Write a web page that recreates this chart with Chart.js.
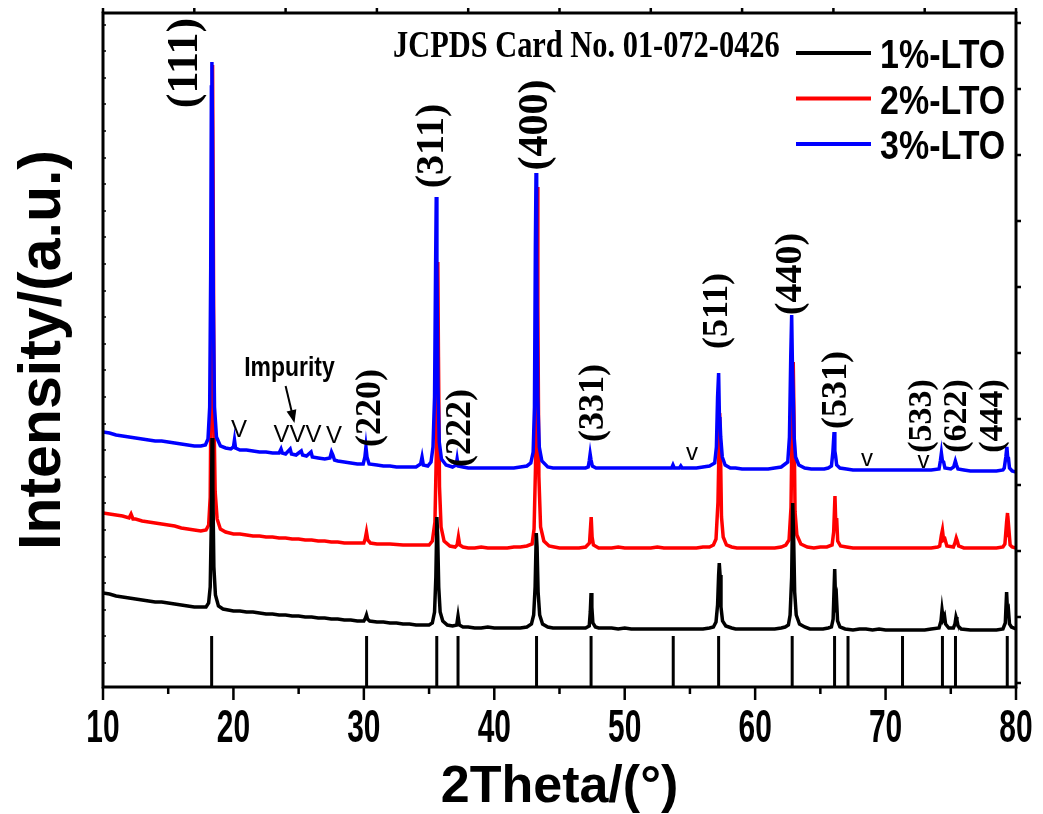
<!DOCTYPE html>
<html>
<head>
<meta charset="utf-8">
<script src="https://cdn.jsdelivr.net/npm/chart.js@4.4.1/dist/chart.umd.min.js"></script>
<style>
  html, body { margin: 0; padding: 0; background: #fff; }
  canvas { display: block; }
</style>
</head>
<body>
<canvas id="xrd" width="1043" height="814"></canvas>
<script>
// ===== DATA =====
const seriesNames = ['1%-LTO', '2%-LTO', '3%-LTO'];
const seriesColors = ['#000000', '#ff0000', '#0000ff'];

// 2theta (deg), intensity (a.u.) -- patterns already offset vertically
const lto1 = [
  [10,94],[10.5,93],[11,91],[11.5,90],[12,89],[12.5,88],[13,87],[13.5,86],[14,85],[14.5,85],[15,84],[15.5,83],[16,82],[16.5,81],[17,80],[17.5,80],[17.9,80],
  [18.1,84],[18.22,100],[18.3,160],[18.36,249],[18.42,200],[18.5,120],[18.62,92],[18.85,81],[19.2,78],
  [19.6,77],[20,76],[20.5,76],[21,75],[21.5,75],[22,74],[22.5,73],[23,73],[23.5,72],[24,72],[24.5,71],[25,71],[25.5,70],[26,70],[26.5,69],[27,69],[27.5,68],[28,68],[28.5,67],[29,67],[29.5,66],[30,66],
  [30.12,69],[30.2,72],[30.28,68],[30.45,66],[31,65],[31.5,65],[32,64],[32.5,64],[33,63],[33.5,63],[34,62],[34.5,62],[35,62],[35.25,64],
  [35.42,75],[35.52,110],[35.6,170],[35.66,150],[35.74,100],[35.85,75],[36.05,66],[36.4,62],[36.8,61],
  [37.12,62],[37.22,71],[37.32,62],[37.6,60],[38,60],[38.5,59],[39,59],[39.5,60],[40,59],[40.5,59],[41,59],[41.5,59],[42,59],[42.5,60],[42.85,63],
  [43.02,72],[43.13,100],[43.22,154],[43.28,140],[43.36,95],[43.48,72],[43.7,63],[44.1,60],[44.5,59],[45,59],[45.5,59],[46,59],[46.5,59],[47,59],[47.28,61],
  [47.36,75],[47.42,94],[47.48,80],[47.56,64],[47.75,60],[48,59],[48.5,59],[49,59],[49.5,58],[50,59],[50.5,58],[51,58],[51.5,58],[52,58],[52.5,58],[53,58],[53.5,58],[54,58],[54.5,58],[55,58],[55.5,58],[56,58],[56.5,59],[56.8,60],
  [57,65],[57.12,82],[57.2,112],[57.25,124],[57.31,112],[57.38,80],[57.5,66],[57.75,61],[58.2,59],[58.5,58],[59,58],[59.5,58],[60,58],[60.5,58],[61,58],[61.5,58],[62,59],[62.3,60],
  [62.55,62],[62.68,72],[62.8,110],[62.88,184],[62.95,150],[63.03,95],[63.15,72],[63.4,63],[63.8,60],[64.2,58],[64.7,58],[65.2,58],[65.6,59],
  [65.85,60],[65.98,68],[66.1,118],[66.17,84],[66.24,88],[66.32,66],[66.5,60],[66.9,58],[67.5,57],[68,58],[68.5,58],[69,57],[69.5,58],[70,57],[70.5,57],[71,57],[71.5,57],[72,57],[72.5,57],[73,57],[73.5,58],[74.1,59],
  [74.25,66],[74.33,77],[74.42,68],[74.52,71],[74.6,63],[74.85,59],[75.2,59],[75.32,63],[75.4,70],[75.47,67],[75.56,61],[75.8,58],[76.5,57],[77,57],[77.5,57],[78,57],[78.5,57],[79,58],
  [79.18,64],[79.28,95],[79.35,75],[79.42,77],[79.5,63],[79.65,60],[80,58]
];
const lto2 = [
  [10,174],[10.5,173],[11,172],[11.5,171],[12,169],[12.15,173],[12.3,168],[12.5,168],[13,166],[13.5,165],[14,164],[14.5,163],[15,162],[15.5,161],[16,159],[16.5,158],[17,157],[17.5,156],[17.9,157],
  [18.1,162],[18.22,190],[18.3,330],[18.36,520],[18.4,622],[18.45,480],[18.52,260],[18.6,195],[18.75,168],[19,158],[19.4,155],
  [20,153],[20.5,153],[21,152],[21.5,151],[22,151],[22.5,150],[23,150],[23.5,149],[24,149],[24.5,148],[25,148],[25.5,147],[26,147],[26.5,146],[27,146],[27.5,145],[28,145],[28.5,144],[29,144],[29.5,144],[30,144],
  [30.1,148],[30.2,155],[30.3,147],[30.5,144],[31,143],[32,143],[33,142],[34,142],[34.5,142],[35,142],[35.25,146],
  [35.45,165],[35.55,230],[35.62,340],[35.67,425],[35.72,330],[35.8,200],[35.92,160],[36.15,146],[36.6,141],[37,140],
  [37.15,142],[37.25,150],[37.35,142],[37.6,140],[38,139],[38.5,139],[39,140],[39.5,139],[40,139],[40.5,139],[41,139],[41.5,140],[42,140],[42.5,141],[42.9,143],
  [43.05,158],[43.16,220],[43.24,380],[43.29,500],[43.34,380],[43.42,210],[43.55,160],[43.8,146],[44.2,141],[44.6,140],[45,139],[45.5,139],[46,139],[46.5,139],[47,140],
  [47.3,144],[47.38,160],[47.43,170],[47.5,150],[47.6,142],[48,139],[48.5,139],[49,139],[49.5,140],[50,139],[50.5,139],[51,139],[51.5,139],[52,139],[52.5,140],[53,139],[53.5,139],[54,139],[54.5,139],[55,139],[55.5,139],[56,140],[56.5,140],[56.8,142],
  [57,148],[57.15,185],[57.23,240],[57.28,274],[57.34,240],[57.42,170],[57.55,150],[57.8,142],[58.2,140],[58.6,139],[59,139],[59.5,139],[60,139],[60.5,139],[61,139],[61.5,139],[62,140],[62.35,142],
  [62.6,147],[62.75,180],[62.85,280],[62.92,325],[62.98,270],[63.06,175],[63.2,152],[63.5,143],[64,140],[64.5,139],[65,140],[65.5,140],
  [65.9,142],[66.02,155],[66.12,191],[66.19,160],[66.25,169],[66.33,146],[66.55,141],[67,140],[67.5,139],[68,139],[68.5,139],[69,139],[69.5,139],[70,139],[70.5,139],[71,139],[71.5,139],[72,139],[72.5,139],[73,139],[73.5,139],[74,140],
  [74.15,141],[74.28,152],[74.36,157],[74.45,147],[74.55,148],[74.7,141],[75.2,140],[75.32,144],[75.42,149],[75.5,146],[75.6,141],[76,139],[76.5,139],[77,139],[77.5,139],[78,139],[78.5,139],[79,140],
  [79.15,143],[79.28,165],[79.35,174],[79.42,150],[79.47,155],[79.55,142],[79.7,140],[80,139]
];
const lto3 = [
  [10,255],[10.5,254],[11,252],[11.5,251],[12,250],[12.5,249],[13,248],[13.5,247],[14,246],[14.5,246],[15,245],[15.5,244],[16,243],[16.5,242],[17,241],[17.5,241],[17.85,242],
  [18.05,248],[18.18,280],[18.26,420],[18.31,600],[18.35,625],[18.39,560],[18.46,380],[18.55,280],[18.7,250],[19,241],[19.4,239],
  [19.8,238],[20,240],[20.08,247],[20.16,239],[20.5,237],[21,237],[21.5,236],[22,235],[22.5,235],[23,234],[23.5,234],
  [23.65,238],[23.75,234],[24,233],[24.35,238],[24.45,233],[24.8,232],[25.2,236],[25.3,232],[25.6,231],[25.95,235],[26.05,230],[26.5,229],[27,228],[27.4,229],[27.52,235],[27.62,232],[27.75,227],[28,226],[28.5,225],[29,224],[29.5,223],[29.95,223],
  [30.08,230],[30.16,240],[30.24,230],[30.4,223],[31,222],[31.5,221],[32,221],[32.5,220],[33,220],[33.5,220],[34,220],[34.35,223],[34.46,230],[34.56,222],[34.9,221],[35.15,225],
  [35.3,240],[35.42,290],[35.5,420],[35.55,490],[35.6,420],[35.68,300],[35.78,245],[35.95,228],[36.3,222],[36.8,220],
  [37.08,222],[37.15,228],[37.23,221],[37.6,220],[38,219],[38.5,219],[39,219],[39.5,219],[40,219],[40.5,219],[41,219],[41.5,219],[42,220],[42.5,221],[42.8,224],
  [42.98,235],[43.08,280],[43.15,440],[43.2,514],[43.25,430],[43.33,290],[43.45,240],[43.65,226],[44.1,220],[44.5,219],[45,219],[45.5,219],[46,219],[46.5,219],[47,219],
  [47.2,220],[47.28,226],[47.35,233],[47.42,227],[47.52,221],[47.8,219],[48.5,219],[49,219],[49.5,219],[50,219],[50.5,219],[51,219],[51.5,219],[52,219],[52.5,219],[53,219],[53.6,219],[53.7,222],[53.8,219],[54.2,219],[54.3,221],[54.4,219],[55,219],[55.5,219],[56,220],[56.5,221],
  [56.9,224],[57.03,240],[57.12,290],[57.2,314],[57.26,270],[57.3,269],[57.36,250],[57.48,230],[57.7,222],[58.1,219],[58.5,219],[59,218],[59.5,218],[60,218],[60.5,218],[61,218],[61.5,219],[62,220],
  [62.5,225],[62.63,250],[62.73,330],[62.8,372],[62.86,320],[62.92,292],[62.99,250],[63.1,230],[63.35,222],[63.8,219],[64.3,218],[64.8,218],[65.3,218],[65.6,219],
  [65.85,221],[65.96,235],[66.05,255],[66.11,236],[66.17,231],[66.25,222],[66.5,219],[67,218],[67.5,217],[68,217],[68.5,217],[69,217],[69.5,217],[70,217],[70.5,217],[71,217],[71.5,217],[72,217],[72.5,217],[73,217],[73.5,217],
  [74.1,218],[74.2,226],[74.28,234],[74.36,226],[74.45,225],[74.55,219],[75,218],[75.22,220],[75.35,226],[75.44,222],[75.55,218],[76,217],[76.5,216],[77,216],[77.5,216],[78,216],[78.5,216],[79,217],
  [79.1,219],[79.22,230],[79.3,240],[79.36,230],[79.42,229],[79.5,219],[79.7,216],[80,215]
];

// JCPDS 01-072-0426 reference lines
const cardPositions = [18.33, 30.21, 35.59, 37.22, 43.24, 47.42, 53.72, 57.20, 62.84, 66.09, 67.12, 71.30, 74.36, 75.36, 79.33];
const cardHeight = 51;

// axis ticks
const xMajor = [10, 20, 30, 40, 50, 60, 70, 80];
const xMinor = [15, 25, 35, 45, 55, 65, 75];
const xTop = [10, 17, 24, 31, 38, 45, 52, 59, 66, 73, 80];
const yLeft = [24, 51, 77, 104, 130, 157, 184, 210, 237, 263, 290, 317, 343, 370, 396, 423, 450, 476, 503, 529, 556, 583, 609, 636, 662];
const yRight = [4, 70, 136, 202, 268, 334, 400, 466, 532, 598, 664];

// hkl labels
const hklText = ['(111)', '(311)', '(400)', '(220)', '(222)', '(331)', '(511)', '(440)', '(531)', '(533)', '(622)', '(444)'];
const hklAt   = [16.3, 35.3, 43.19, 30.55, 37.42, 47.64, 57.11, 62.75, 66.28, 72.8, 75.5, 78.24];
const hklY    = [624, 541, 562, 279, 259, 284, 376, 413, 297, 271, 271, 271];
const hklSize = [44, 40, 42, 36, 36, 36, 36, 38, 36, 34, 34, 34];

// impurity marks
const markText = ['V', 'VVV', 'V', 'v', 'v', 'v'];
const markAt   = [20.43, 24.91, 27.71, 55.16, 68.58, 72.91];
const markY    = [257, 252, 251, 234, 228, 226];

const toXY = arr => arr.map(p => ({ x: p[0], y: p[1] }));

const sticks = [];
cardPositions.forEach(p => {
  sticks.push({ x: p, y: 0 }, { x: p, y: cardHeight }, { x: p, y: null });
});

// ===== TEXT HELPER =====
function squeezeText(ctx, text, x, y, font, sx, align, rot) {
  ctx.save();
  ctx.translate(x, y);
  if (rot) ctx.rotate(rot);
  ctx.scale(sx, 1);
  ctx.font = font;
  ctx.textAlign = align || 'left';
  ctx.fillText(text, 0, 0);
  ctx.restore();
}

const SANS = '"Liberation Sans", Arial, sans-serif';
const SERIF = '"Liberation Serif", "Times New Roman", serif';

// ===== FRAME, TICKS, LABELS =====
const decor = {
  id: 'decor',
  afterDraw(chart) {
    const { ctx, chartArea: a, scales: { x, y } } = chart;
    ctx.save();
    ctx.strokeStyle = '#000';
    ctx.fillStyle = '#000';

    // frame
    ctx.lineWidth = 3;
    ctx.strokeRect(a.left, a.top, a.right - a.left, a.bottom - a.top);

    ctx.lineWidth = 2.5;
    ctx.beginPath();
    xMajor.forEach(v => { const px = x.getPixelForValue(v); ctx.moveTo(px, a.bottom); ctx.lineTo(px, a.bottom + 13); });
    xMinor.forEach(v => { const px = x.getPixelForValue(v); ctx.moveTo(px, a.bottom); ctx.lineTo(px, a.bottom + 7); });
    xTop.forEach(v => { const px = x.getPixelForValue(v); ctx.moveTo(px, a.top); ctx.lineTo(px, a.top - 5); });
    yRight.forEach(v => { const py = y.getPixelForValue(v); ctx.moveTo(a.right, py); ctx.lineTo(a.right + 5, py); });
    ctx.stroke();
    ctx.lineWidth = 1.5;
    ctx.beginPath();
    yLeft.forEach(v => { const py = y.getPixelForValue(v); ctx.moveTo(a.left, py); ctx.lineTo(a.left + 3, py); });
    ctx.stroke();

    // tick labels
    ctx.textBaseline = 'alphabetic';
    xMajor.forEach(v => squeezeText(ctx, String(v), x.getPixelForValue(v), a.bottom + 55, 'bold 46px ' + SANS, 0.65, 'center'));

    // axis titles
    squeezeText(ctx, '2Theta/(°)', (a.left + a.right) / 2, 802, 'bold 52px ' + SANS, 1, 'center');
    squeezeText(ctx, 'Intensity/(a.u.)', 60, (a.top + a.bottom) / 2, 'bold 59px ' + SANS, 1, 'center', -Math.PI / 2);

    // hkl labels
    ctx.textBaseline = 'middle';
    hklText.forEach((t, i) => {
      squeezeText(ctx, t, x.getPixelForValue(hklAt[i]), y.getPixelForValue(hklY[i]), 'bold ' + hklSize[i] + 'px ' + SERIF, 1, 'center', -Math.PI / 2);
    });

    // impurity marks
    markText.forEach((t, i) => {
      squeezeText(ctx, t, x.getPixelForValue(markAt[i]), y.getPixelForValue(markY[i]), '24px ' + SANS, 1, 'center');
    });
    ctx.textBaseline = 'alphabetic';
    squeezeText(ctx, 'Impurity', x.getPixelForValue(24.3), y.getPixelForValue(311), 'bold 27px ' + SANS, 0.85, 'center');

    // arrow
    const x0 = x.getPixelForValue(24.0), y0 = y.getPixelForValue(301);
    const x1 = x.getPixelForValue(24.68), y1 = y.getPixelForValue(264);
    const ang = Math.atan2(y1 - y0, x1 - x0);
    ctx.lineWidth = 2;
    ctx.beginPath();
    ctx.moveTo(x0, y0);
    ctx.lineTo(x1 - 8 * Math.cos(ang), y1 - 8 * Math.sin(ang));
    ctx.stroke();
    ctx.beginPath();
    ctx.moveTo(x1, y1);
    ctx.lineTo(x1 - 13 * Math.cos(ang) + 5 * Math.sin(ang), y1 - 13 * Math.sin(ang) - 5 * Math.cos(ang));
    ctx.lineTo(x1 - 13 * Math.cos(ang) - 5 * Math.sin(ang), y1 - 13 * Math.sin(ang) + 5 * Math.cos(ang));
    ctx.closePath();
    ctx.fill();

    // card note
    squeezeText(ctx, 'JCPDS Card No. 01-072-0426', 393, 57, 'bold 38px ' + SERIF, 0.8, 'left');

    // legend
    chart.data.datasets.slice(0, 3).forEach((ds, i) => {
      const ly = 53 + i * 45.5;
      ctx.strokeStyle = ds.borderColor;
      ctx.lineWidth = 4;
      ctx.beginPath();
      ctx.moveTo(796, ly);
      ctx.lineTo(871, ly);
      ctx.stroke();
      ctx.fillStyle = '#000';
      squeezeText(ctx, ds.label, 880, ly + 15, 'bold 40px ' + SANS, 0.85, 'left');
    });

    ctx.restore();
  }
};

// ===== CHART =====
const lineStyle = { pointRadius: 0, borderWidth: 3.5, tension: 0, fill: false };

new Chart(document.getElementById('xrd'), {
  type: 'line',
  data: {
    datasets: [
      { label: seriesNames[0], data: toXY(lto1), borderColor: seriesColors[0], order: 1, ...lineStyle },
      { label: seriesNames[1], data: toXY(lto2), borderColor: seriesColors[1], order: 2, ...lineStyle },
      { label: seriesNames[2], data: toXY(lto3), borderColor: seriesColors[2], order: 0, ...lineStyle },
      { label: 'JCPDS', data: sticks, borderColor: '#000', order: 3, spanGaps: false, ...lineStyle, borderWidth: 3 }
    ]
  },
  options: {
    responsive: false,
    devicePixelRatio: 1,
    animation: false,
    layout: { padding: { top: 13, right: 27, left: 0, bottom: 0 } },
    plugins: { legend: { display: false }, tooltip: { enabled: false } },
    scales: {
      x: {
        type: 'linear', min: 10, max: 80,
        grid: { display: false }, border: { display: false },
        ticks: { display: false },
        afterFit: s => { s.height = 127; }
      },
      y: {
        min: 0, max: 674,
        grid: { display: false }, border: { display: false },
        ticks: { display: false },
        afterFit: s => { s.width = 103; }
      }
    }
  },
  plugins: [decor]
});
</script>
</body>
</html>
